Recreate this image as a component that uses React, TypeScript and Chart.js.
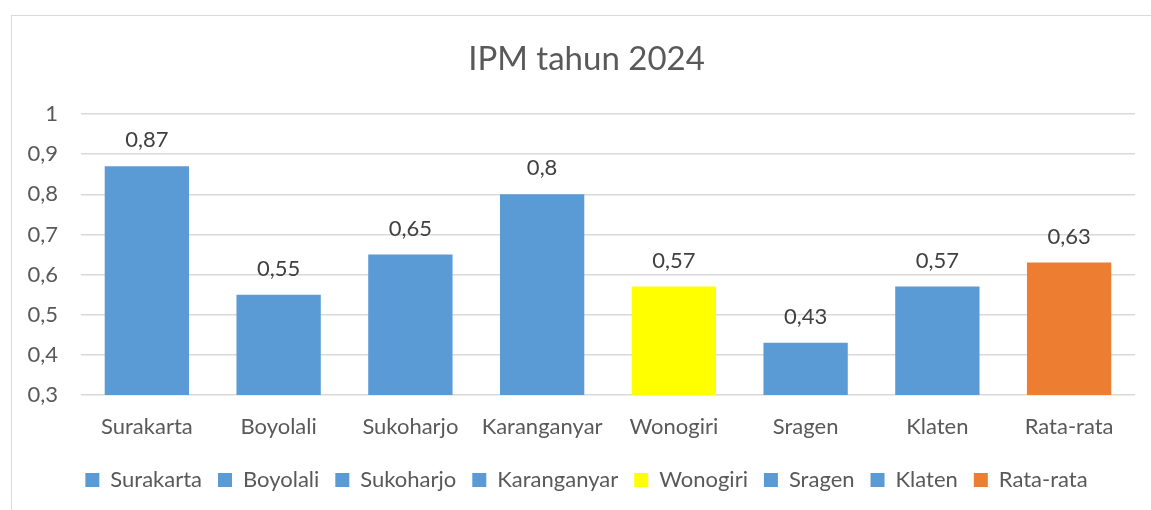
import React, { useEffect, useRef } from "react";
import { Chart, registerables } from "chart.js";

Chart.register(...registerables);

const chartTitle = "IPM tahun 2024";
const categories = ["Surakarta", "Boyolali", "Sukoharjo", "Karanganyar", "Wonogiri", "Sragen", "Klaten", "Rata-rata"];
const values = [0.87, 0.55, 0.65, 0.8, 0.57, 0.43, 0.57, 0.63];
const barColors = ["#5B9BD5", "#5B9BD5", "#5B9BD5", "#5B9BD5", "#FFFF00", "#5B9BD5", "#5B9BD5", "#ED7D31"];
const yMin = 0.3;
const yMax = 1;
const yStep = 0.1;

const FONT = "Lato";
const FS = 22;
const fmt = (v: number) => String(Number(v.toFixed(2))).replace(".", ",");

const dataLabels = {
  id: "dataLabels",
  afterDatasetsDraw(chart: any) {
    const ctx = chart.ctx;
    const meta = chart.getDatasetMeta(0);
    ctx.save();
    ctx.font = `${FS}px ${FONT}`;
    ctx.fillStyle = "#404040";
    ctx.textAlign = "center";
    ctx.textBaseline = "middle";
    meta.data.forEach((el: any, i: number) => {
      const v = chart.data.datasets[0].data[i] as number;
      ctx.fillText(fmt(v), el.x, el.y - 26);
    });
    ctx.restore();
  },
};

export default function App() {
  const ref = useRef<HTMLCanvasElement | null>(null);

  useEffect(() => {
    if (!ref.current) return;
    const chart = new Chart(ref.current, {
      type: "bar",
      data: {
        labels: categories,
        datasets: [
          {
            data: values,
            backgroundColor: barColors,
            borderWidth: 0,
            barPercentage: 0.64,
            categoryPercentage: 1,
            yAxisID: "y",
          },
        ],
      },
      options: {
        animation: false,
        responsive: false,
        maintainAspectRatio: false,
        layout: { padding: { left: 13, right: 16, top: 0, bottom: 33 } },
        scales: {
          x: {
            grid: { display: false, drawTicks: false },
            border: { display: false },
            ticks: {
              color: "#595959",
              font: { family: FONT, size: FS },
              padding: 19,
              maxRotation: 0,
              autoSkip: false,
            },
            afterFit: (scale: any) => {
              scale.height -= 6.4;
              scale.paddingLeft = 0;
              scale.paddingRight = 0;
            },
          },
          y: {
            position: "left",
            min: yMin,
            max: yMax,
            grid: { color: "#D9D9D9", lineWidth: 1.5, drawTicks: false },
            border: { display: false },
            ticks: {
              stepSize: yStep,
              color: "#595959",
              font: { family: FONT, size: FS },
              padding: 23,
              callback: (v: any) => fmt(Number(v)),
            },
            afterFit: (scale: any) => {
              scale.width = 56;
            },
          },
          yRight: {
            position: "right",
            display: true,
            grid: { display: false, drawTicks: false },
            border: { display: false },
            ticks: { display: false },
            afterFit: (scale: any) => {
              scale.width = 13;
            },
          },
        },
        plugins: {
          tooltip: { enabled: false },
          title: {
            display: true,
            text: chartTitle,
            color: "#595959",
            font: { family: FONT, size: 33, weight: "normal" },
            padding: { top: 24, bottom: 34.4 },
          },
          legend: {
            display: true,
            position: "bottom",
            labels: {
              color: "#595959",
              font: { family: FONT, size: FS },
              boxWidth: 14,
              boxHeight: 14,
              padding: 16,
              generateLabels: () =>
                categories.map((c, i) => ({
                  text: c,
                  fillStyle: barColors[i],
                  strokeStyle: barColors[i],
                  lineWidth: 0,
                  hidden: false,
                  index: i,
                  fontColor: "#595959",
                })),
            },
          },
        },
      },
      plugins: [dataLabels],
    });
    return () => chart.destroy();
  }, []);

  return (
    <div
      style={{
        position: "fixed",
        left: 0,
        top: 0,
        width: 1151,
        height: 510,
        overflow: "hidden",
        background: "#fff",
      }}
    >
      <div
        style={{
          position: "absolute",
          left: 11,
          top: 15,
          width: 1154,
          height: 520,
          border: "1px solid #D9D9D9",
          boxSizing: "border-box",
          background: "#fff",
        }}
      >
        <canvas ref={ref} width={1152} height={518} style={{ display: "block", width: 1152, height: 518 }} />
      </div>
    </div>
  );
}
